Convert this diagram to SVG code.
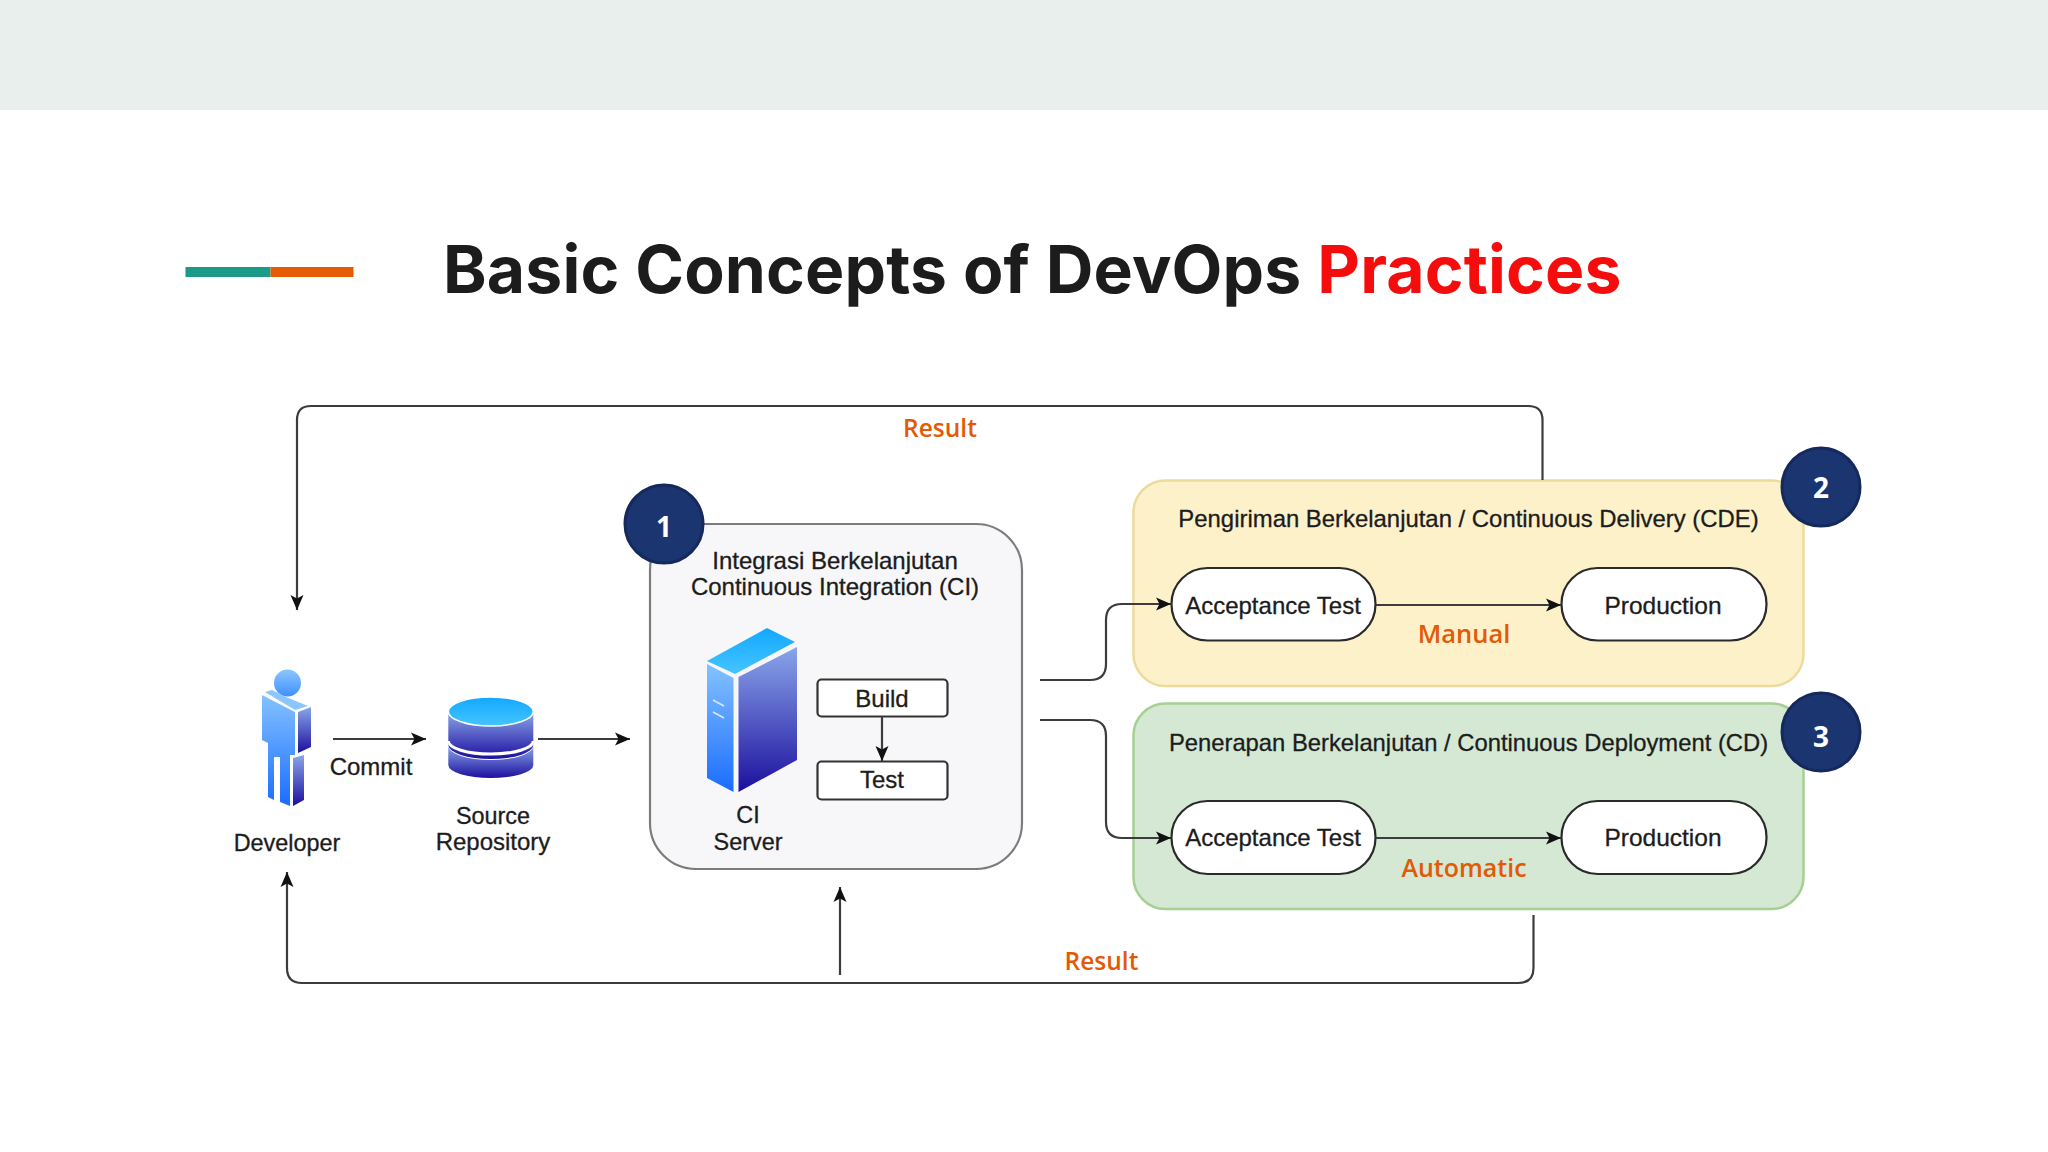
<svg xmlns="http://www.w3.org/2000/svg" width="2048" height="1152" viewBox="0 0 2048 1152">
<style>
text{font-family:"Liberation Sans",Arial,sans-serif;fill:#1c1c1c;text-anchor:middle;font-size:24px;stroke:#1c1c1c;stroke-width:.3}
.title{font-family:Inter,Lato,sans-serif;font-weight:700;font-size:66px;text-anchor:start;letter-spacing:.15px;stroke:none}
.res{font-family:"Open Sans","Noto Sans",sans-serif;font-weight:600;fill:#e25a06;font-size:24.500px;stroke:none}
.badge{fill:#1b3570;stroke:#15295c;stroke-width:3}
.num{font-family:"Open Sans","Noto Sans",sans-serif;font-weight:700;fill:#fff;font-size:28px;stroke:none}
.pill{fill:#fff;stroke:#2a2a2a;stroke-width:2.200}
.box{fill:#fff;stroke:#333;stroke-width:2.200}
.c{fill:none;stroke:#3c3c3c;stroke-width:2.200}
.a{marker-end:url(#arr)}
</style>
<defs>
<marker id="arr" markerUnits="userSpaceOnUse" markerWidth="16" markerHeight="16" refX="15" refY="8" orient="auto"><path d="M0 1.500L15 8L0 14.500L3.500 8Z" fill="#111"/></marker>
<linearGradient id="lite" x1="0" y1="0" x2="0" y2="1"><stop offset="0" stop-color="#84c2ff"/><stop offset="1" stop-color="#1a6cff"/></linearGradient>
<linearGradient id="head" x1="0" y1="0" x2="0" y2="1"><stop offset="0" stop-color="#8cc6ff"/><stop offset="1" stop-color="#3f90ff"/></linearGradient>
<linearGradient id="dark" x1="0" y1="0" x2="0" y2="1"><stop offset="0" stop-color="#8aa6ea"/><stop offset="1" stop-color="#1c0f9e"/></linearGradient>
<linearGradient id="top" x1="0" y1="0" x2="0" y2="1"><stop offset="0" stop-color="#12a8ff"/><stop offset="1" stop-color="#46c4ff"/></linearGradient>
</defs>
<rect width="2048" height="1152" fill="#fff"/>
<rect id="band" width="2048" height="110" fill="#e9efec"/>
<g id="accent"><rect x="185.500" y="267" width="85" height="10" fill="#1b9a87"/><rect x="270.500" y="267" width="83" height="10" fill="#e65c05"/></g>
<text class="title" x="443" y="293">Basic Concepts of DevOps <tspan fill="#f50d0d">Practices</tspan></text>

<g id="developer">
<circle cx="287.500" cy="683" r="13.500" fill="url(#head)"/>
<path d="M262 695L295 712V755H290V806L280 802V757H274V800L268 797V743L262 740Z" fill="url(#lite)"/>
<path d="M265 692L272 690L286 697L308 706L295 710Z" fill="#8cc6ff"/>
<path d="M298 712L311 707V747L298 753Z" fill="url(#dark)"/>
<path d="M293 758L304 755V800L293 806Z" fill="url(#dark)"/>
<text x="287" y="851" style="font-size:23.400px">Developer</text>
</g>
<g id="repository">
<path d="M448.300 712V745A42.500 14 0 0 0 533.300 745V712Z" fill="url(#dark)"/>
<path d="M448.300 746V765A42.500 13 0 0 0 533.300 765V746A42.500 14 0 0 1 448.300 746Z" fill="url(#dark)"/>
<path d="M448.300 741A42.500 13 0 0 0 533.300 741" fill="none" stroke="#fff" stroke-width="3"/>
<ellipse cx="490.800" cy="711.500" rx="42.500" ry="14.500" fill="url(#top)" stroke="#fff" stroke-width="1.500"/>
<text x="493" y="824" style="font-size:23.400px">Source</text>
<text x="493" y="850">Repository</text>
</g>
<text id="commit" x="371" y="775">Commit</text>

<g id="ci">
<rect x="650" y="524" width="372" height="345" rx="46" fill="#f7f7f9" stroke="#7c7c7c" stroke-width="2.200"/>
<text x="835" y="569">Integrasi Berkelanjutan</text>
<text x="835" y="595">Continuous Integration (CI)</text>
</g>
<g id="ci-server">
<path d="M767 628L795 642L735 674L707 661Z" fill="url(#top)"/>
<path d="M707 664L733.500 678V792L707 778Z" fill="url(#lite)"/>
<path d="M738.500 677L797 647V760L738.500 792Z" fill="url(#dark)"/>
<path d="M713 700L724 706M713 712L724 718" stroke="#d8e8ff" stroke-width="1.500"/>
<text x="748" y="823" style="font-size:23.400px">CI</text>
<text x="748" y="850" style="font-size:23.400px">Server</text>
</g>
<g id="build"><rect class="box" x="817.500" y="679.500" width="130" height="37" rx="4"/><text x="882" y="707">Build</text></g>
<g id="test"><rect class="box" x="817.500" y="761.500" width="130" height="38" rx="4"/><text x="882" y="788">Test</text></g>

<g id="cde">
<rect x="1133.500" y="480.500" width="670" height="205.500" rx="32" fill="#fdf1ca" stroke="#ecdc9c" stroke-width="2.500"/>
<text x="1468.500" y="527" style="font-size:23.900px">Pengiriman Berkelanjutan / Continuous Delivery (CDE)</text>
</g>
<g id="cd">
<rect x="1133.500" y="703.500" width="670" height="205.500" rx="32" fill="#d4e8d4" stroke="#a5d092" stroke-width="2.500"/>
<text x="1468.500" y="751" style="font-size:23.800px">Penerapan Berkelanjutan / Continuous Deployment (CD)</text>
</g>
<g id="cde-accept"><rect class="pill" x="1171.500" y="568" width="204" height="72.500" rx="36"/><text x="1273" y="614">Acceptance Test</text></g>
<g id="cde-prod"><rect class="pill" x="1561.500" y="568" width="205" height="72.500" rx="36"/><text x="1663" y="614" style="font-size:24.500px">Production</text></g>
<g id="cd-accept"><rect class="pill" x="1171.500" y="801" width="204" height="73" rx="36"/><text x="1273" y="846">Acceptance Test</text></g>
<g id="cd-prod"><rect class="pill" x="1561.500" y="801" width="205" height="73" rx="36"/><text x="1663" y="846" style="font-size:24.500px">Production</text></g>

<g id="connectors">
<path class="c a" d="M333 739H426"/>
<path class="c a" d="M538 739H630"/>
<path class="c a" d="M882 717V761"/>
<path class="c a" d="M1040 680H1090Q1106 680 1106 664V620Q1106 604 1122 604H1171"/>
<path class="c a" d="M1040 720H1090Q1106 720 1106 736V822Q1106 838 1122 838H1171"/>
<path class="c a" d="M1376 605H1561"/>
<path class="c a" d="M1376 838H1561"/>
<path class="c a" d="M1542.500 480V420Q1542.500 406 1528 406H311Q297 406 297 420V610"/>
<path class="c a" d="M1533.500 915V968Q1533.500 983 1518 983H302Q287 983 287 968V872"/>
<path class="c a" d="M840 975V887"/>
</g>
<text class="res" x="940" y="437">Result</text>
<text class="res" x="1101.500" y="970">Result</text>
<text class="res" x="1464" y="643" style="font-size:25.500px">Manual</text>
<text class="res" x="1464" y="877" style="font-size:25px">Automatic</text>

<g id="badge1"><circle class="badge" cx="664" cy="524" r="39"/><text class="num" x="664" y="537">1</text></g>
<g id="badge2"><circle class="badge" cx="1821" cy="487" r="39"/><text class="num" x="1821" y="498">2</text></g>
<g id="badge3"><circle class="badge" cx="1821" cy="732" r="39"/><text class="num" x="1821" y="747">3</text></g>
</svg>
